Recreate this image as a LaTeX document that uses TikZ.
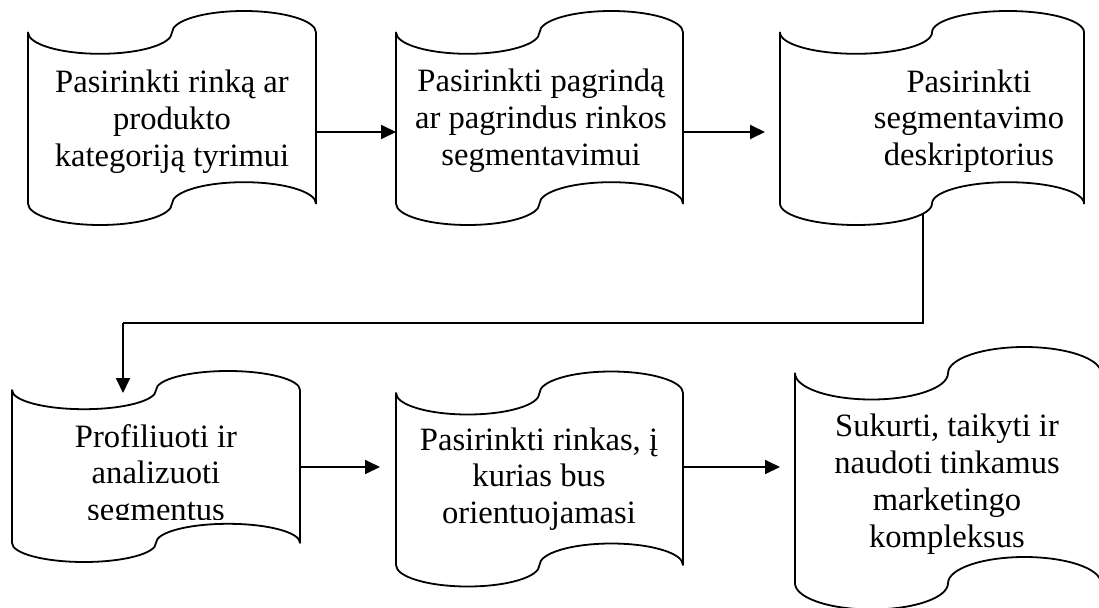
\documentclass[tikz,border=0pt]{standalone}
\usepackage{fontspec}
\setmainfont{Liberation Serif}
\usetikzlibrary{arrows.meta,calc}

\tikzset{
  tapeline/.style={line width=1.8pt, line join=round},
  frame/.style={rectangle, inner sep=0pt, outer sep=0pt, draw=none},
  lbl/.style={align=center, inner sep=0pt, font=\fontsize{32.6}{36.8}\selectfont},
  link/.style={line width=1.9pt},
  arr/.style={link, -{Triangle[length=15pt,width=14pt]}},
}

% punched-tape outline: #1 name, #2 left x, #3 top y, #4 width, #5 height
\newcommand\tapebox[5]{%
  \pgfmathsetmacro\tpRx{#4/4}%
  \pgfmathsetmacro\tpRy{#5/10}%
  \pgfmathsetmacro\tpYa{#3+#5/10}%
  \pgfmathsetmacro\tpYb{#3+0.9*#5}%
  \pgfmathsetmacro\tpXr{#2+#4}%
  \node[frame, minimum width=#4pt, minimum height=#5pt, anchor=north west] (#1) at (#2,#3) {};
  \draw[tapeline] (#2,\tpYa)
    arc[start angle=180, end angle=0, x radius=\tpRx, y radius=\tpRy]
    arc[start angle=180, end angle=360, x radius=\tpRx, y radius=\tpRy]
    -- (\tpXr,\tpYb)
    arc[start angle=0, end angle=-180, x radius=\tpRx, y radius=\tpRy]
    arc[start angle=0, end angle=180, x radius=\tpRx, y radius=\tpRy]
    -- cycle;
}

\begin{document}
\begin{tikzpicture}[x=1pt, y=-1pt]
\useasboundingbox (0,0) rectangle (1099,607);

% upper row
\tapebox{b1}{28}{11}{288}{214}
\tapebox{b2}{396}{11}{287}{214}
\tapebox{b3}{780}{11}{304}{214}
% lower row
\tapebox{b4}{12}{371}{288}{191}
\tapebox{b5}{396}{371.5}{287}{215}
\tapebox{b6}{795}{347}{306}{262.5}

\node[lbl] (t1) at (172,122) {Pasirinkti rinką ar\\produkto\\kategoriją tyrimui};
\node[lbl] (t2) at (541,121) {Pasirinkti pagrindą\\ar pagrindus rinkos\\segmentavimui};
\node[lbl] (t3) at (969,121) {Pasirinkti\\segmentavimo\\deskriptorius};
\begin{scope}
  \clip (0,0) rectangle (1099,519);
  \node[lbl] (t4) at (156,476) {Profiliuoti ir\\analizuoti\\segmentus};
\end{scope}
\node[lbl] (t5) at (539,479) {Pasirinkti rinkas, į\\kurias bus\\orientuojamasi};
\node[lbl] (t6) at (947,484) {Sukurti, taikyti ir\\naudoti tinkamus\\marketingo\\kompleksus};

% connectors
\draw[arr] ([yshift=-14pt]b1.east) -- ([yshift=-14pt]b1.east -| b2.west);
\draw[arr, shorten >=15pt] ([yshift=-14pt]b2.east) -- ([yshift=-14pt]b2.east -| b3.west);
\coordinate (turn) at (123,323);
\draw[link] ([shift={(-9,-11)}]b3.south) |- (turn);
\draw[arr] (turn) -- ([shift={(-33,22)}]b4.north);
\draw[arr, shorten >=16pt] ([yshift=-0.5pt]b4.east) -- ([yshift=-0.5pt]b4.east -| b5.west);
\draw[arr, shorten >=15pt] ([yshift=12pt]b5.east) -- ([yshift=12pt]b5.east -| b6.west);
\end{tikzpicture}
\end{document}
